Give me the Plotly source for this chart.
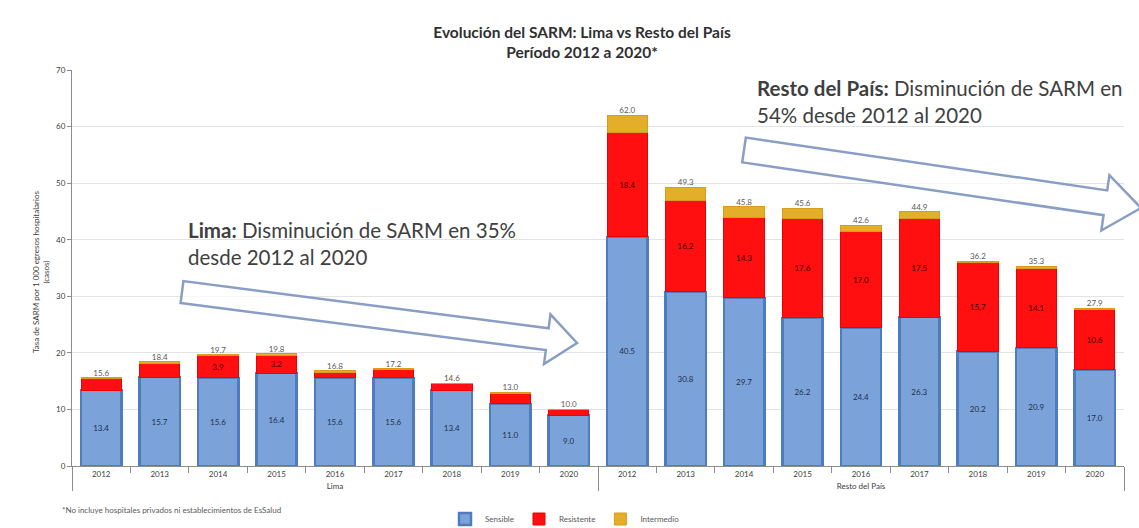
import math
import plotly.graph_objects as go

# ---- data -------------------------------------------------------------
years = ["2012", "2013", "2014", "2015", "2016", "2017", "2018", "2019", "2020"]
groups = ["Lima", "Resto del País"]

lima_sensible = [13.4, 15.7, 15.6, 16.4, 15.6, 15.6, 13.4, 11.0, 9.0]
lima_resistente = [2.0, 2.5, 3.9, 3.2, 1.0, 1.4, 1.1, 1.9, 0.9]
lima_intermedio = [0.2, 0.2, 0.2, 0.2, 0.2, 0.2, 0.1, 0.1, 0.1]

resto_sensible = [40.5, 30.8, 29.7, 26.2, 24.4, 26.3, 20.2, 20.9, 17.0]
resto_resistente = [18.4, 16.2, 14.3, 17.6, 17.0, 17.5, 15.7, 14.1, 10.6]
resto_intermedio = [3.1, 2.3, 1.8, 1.8, 1.2, 1.1, 0.3, 0.3, 0.3]

y_ticks = [0, 10, 20, 30, 40, 50, 60, 70]

# ---- layout geometry (pixels) -----------------------------------------
W, H = 1139, 528
ML, MR, MT, MB = 72, 15, 70, 62
PW, PH = W - ML - MR, H - MT - MB

FONT = "Lato"

x_cat = [[g for g in groups for _ in years], years * len(groups)]
sensible = lima_sensible + resto_sensible
resistente = lima_resistente + resto_resistente
intermedio = lima_intermedio + resto_intermedio
totales = [round(a + b + c, 1) for a, b, c in zip(sensible, resistente, intermedio)]
n_cat = len(totales)

fig = go.Figure()

fig.add_trace(go.Bar(
    x=x_cat, y=sensible, name="Sensible",
    marker=dict(color="#7BA3D9", line=dict(color="#4F7CBF", width=2.5)),
    text=[f"{v:.1f}" for v in sensible], textposition="inside",
    insidetextanchor="middle", textfont=dict(size=8, color="#1f2f4f", family=FONT),
))
fig.add_trace(go.Bar(
    x=x_cat, y=resistente, name="Resistente",
    marker=dict(color="#FF0F0F", line=dict(color="#F00000", width=1)),
    text=[f"{v:.1f}" for v in resistente], textposition="inside",
    insidetextanchor="middle", textfont=dict(size=8, color="#3a0000", family=FONT),
))
fig.add_trace(go.Bar(
    x=x_cat, y=intermedio, name="Intermedio",
    marker=dict(color="#E3AE2A", line=dict(color="#D89C1A", width=1)),
))

# totals above each stacked bar
fig.add_trace(go.Scatter(
    x=x_cat, y=totales, mode="text",
    text=[f"{v:.1f}" for v in totales], textposition="top center",
    textfont=dict(size=8, color="#595959", family=FONT),
    showlegend=False, hoverinfo="skip",
))


def px2paper(px, py):
    return (px - ML) / PW, (H - MB - py) / PH


def block_arrow(tail, tip, body_half, head_half, head_len):
    (x0, y0), (x1, y1) = tail, tip
    L = math.hypot(x1 - x0, y1 - y0)
    ux, uy = (x1 - x0) / L, (y1 - y0) / L
    nx, ny = -uy, ux
    bx, by = x1 - ux * head_len, y1 - uy * head_len
    pts = [
        (x0 + nx * body_half, y0 + ny * body_half),
        (bx + nx * body_half, by + ny * body_half),
        (bx + nx * head_half, by + ny * head_half),
        (x1, y1),
        (bx - nx * head_half, by - ny * head_half),
        (bx - nx * body_half, by - ny * body_half),
        (x0 - nx * body_half, y0 - ny * body_half),
    ]
    path = ""
    for i, (px, py) in enumerate(pts):
        qx, qy = px2paper(px, py)
        path += ("M" if i == 0 else "L") + f"{qx:.5f},{qy:.5f} "
    return path + "Z"


for tail, tip, bh, hh, hl in [
    ((182, 292), (577, 343), 11, 25, 30),
    ((744, 150), (1141, 208), 12.5, 28, 36),
]:
    fig.add_shape(type="path", xref="paper", yref="paper",
                  path=block_arrow(tail, tip, bh, hh, hl),
                  line=dict(color="#8A9DC4", width=2.5),
                  fillcolor="rgba(255,255,255,0.7)", layer="above")

ann_font = dict(family=FONT, size=20.5, color="#404040")
fx, fy = px2paper(186, 243)
fig.add_annotation(xref="paper", yref="paper", x=fx, y=fy, xanchor="left", yanchor="middle",
                   align="left", showarrow=False, font=ann_font,
                   text="<b>Lima:</b> Disminución de SARM en 35%<br>desde 2012 al 2020")
fx, fy = px2paper(755, 102)
fig.add_annotation(xref="paper", yref="paper", x=fx, y=fy, xanchor="left", yanchor="middle",
                   align="left", showarrow=False, font=ann_font,
                   text="<b>Resto del País:</b> Disminución de SARM en<br>54% desde 2012 al 2020")

# y-axis title
fx, fy = px2paper(41, 272)
fig.add_annotation(xref="paper", yref="paper", x=fx, y=fy, xanchor="center", yanchor="middle",
                   textangle=-90, showarrow=False,
                   align="center", font=dict(family=FONT, size=8, color="#404040"),
                   text="Tasa de SARM por 1 000 egresos hospitalarios<br>(casos)")

# footnote
fx, fy = px2paper(60, 510)
fig.add_annotation(xref="paper", yref="paper", x=fx, y=fy, xanchor="left", yanchor="middle",
                   showarrow=False, font=dict(family=FONT, size=8, color="#595959"),
                   text="*No incluye hospitales privados ni establecimientos de EsSalud")

fig.update_layout(
    width=W, height=H,
    margin=dict(l=ML, r=MR, t=MT, b=MB, autoexpand=False),
    barmode="stack", bargap=0.31,
    plot_bgcolor="white", paper_bgcolor="white",
    font=dict(family=FONT, size=8, color="#404040"),
    title=dict(text="<b>Evolución del SARM: Lima vs Resto del País</b><br><b>Período 2012 a 2020*</b>",
               x=px2paper(582, 0)[0], xref="paper", xanchor="center",
               y=1 - 38 / H, yanchor="middle",
               font=dict(family=FONT, size=15.5, color="#303030")),
    legend=dict(orientation="h", x=px2paper(565, 0)[0], xanchor="center",
                y=px2paper(0, 519)[1], yanchor="middle",
                font=dict(family=FONT, size=8, color="#595959"),
                itemwidth=30, traceorder="normal"),
    xaxis=dict(type="multicategory", automargin=False, range=[-0.5, n_cat - 0.5],
               showline=True, linecolor="#8c8c8c", linewidth=1,
               ticks="outside", ticklen=6, tickcolor="#8c8c8c",
               dividercolor="#8c8c8c", dividerwidth=1,
               tickfont=dict(family=FONT, size=8, color="#404040")),
    yaxis=dict(range=[0, 70], tickvals=y_ticks, automargin=False, showline=True,
               linecolor="#8c8c8c", ticks="outside", ticklen=4, tickcolor="#8c8c8c",
               gridcolor="#e3e3e3", zeroline=False,
               tickfont=dict(family=FONT, size=8, color="#404040")),
    uniformtext=dict(minsize=7, mode="hide"),
)

fig.write_html("out.html")
